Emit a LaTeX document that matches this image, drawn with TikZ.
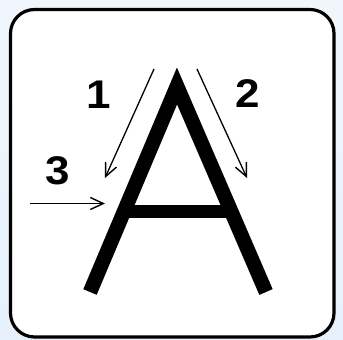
\documentclass[tikz,border=0pt]{standalone}
\usepackage{fontspec}
\setmainfont{Liberation Sans}
\usetikzlibrary{arrows.meta}
\definecolor{bgblue}{RGB}{230,241,251}
\definecolor{bgblue2}{RGB}{240,246,252}
\tikzset{
  stroke/.style={line width=1.3pt, -{Straight Barb[length=13pt,width=12pt,line width=1.4pt]}},
  digit/.style={font=\fontsize{40}{40}\selectfont\bfseries, inner sep=0pt, xscale=1.1},
  letterleg/.style={line width=14.5pt, miter limit=10, line join=miter, line cap=butt}
}
\begin{document}
\begin{tikzpicture}[x=1pt,y=-1pt]
\useasboundingbox (0,0) rectangle (343,340);
\shade[top color=bgblue2, bottom color=bgblue] (0,0) rectangle (343,340);
\draw[line width=3.2pt, fill=white, rounded corners=24pt] (10.5,9.5) rectangle (334,337);
% letter A
\coordinate (lb) at (90,292);
\coordinate (ap) at (177,86);
\coordinate (rb) at (266,292);
\draw[letterleg] (lb) -- (ap) -- (rb);
\coordinate (bl) at (128,211);
\coordinate (br) at (230,211);
\draw[line width=13pt] (bl) -- (br);
% arrows
\coordinate (a1s) at (154,69);
\coordinate (a1e) at (105,178);
\coordinate (a2s) at (197,69);
\coordinate (a2e) at (247,178);
\coordinate (a3s) at (30,203.5);
\coordinate (a3e) at (105,203.5);
\draw[stroke] (a1s) -- (a1e);
\draw[stroke] (a2s) -- (a2e);
\draw[stroke] (a3s) -- (a3e);
% labels
\node[digit] (n1) at (99,94.5) {1};
\node[digit] (n2) at (248,94) {2};
\node[digit] (n3) at (57.5,171) {3};
\end{tikzpicture}
\end{document}
